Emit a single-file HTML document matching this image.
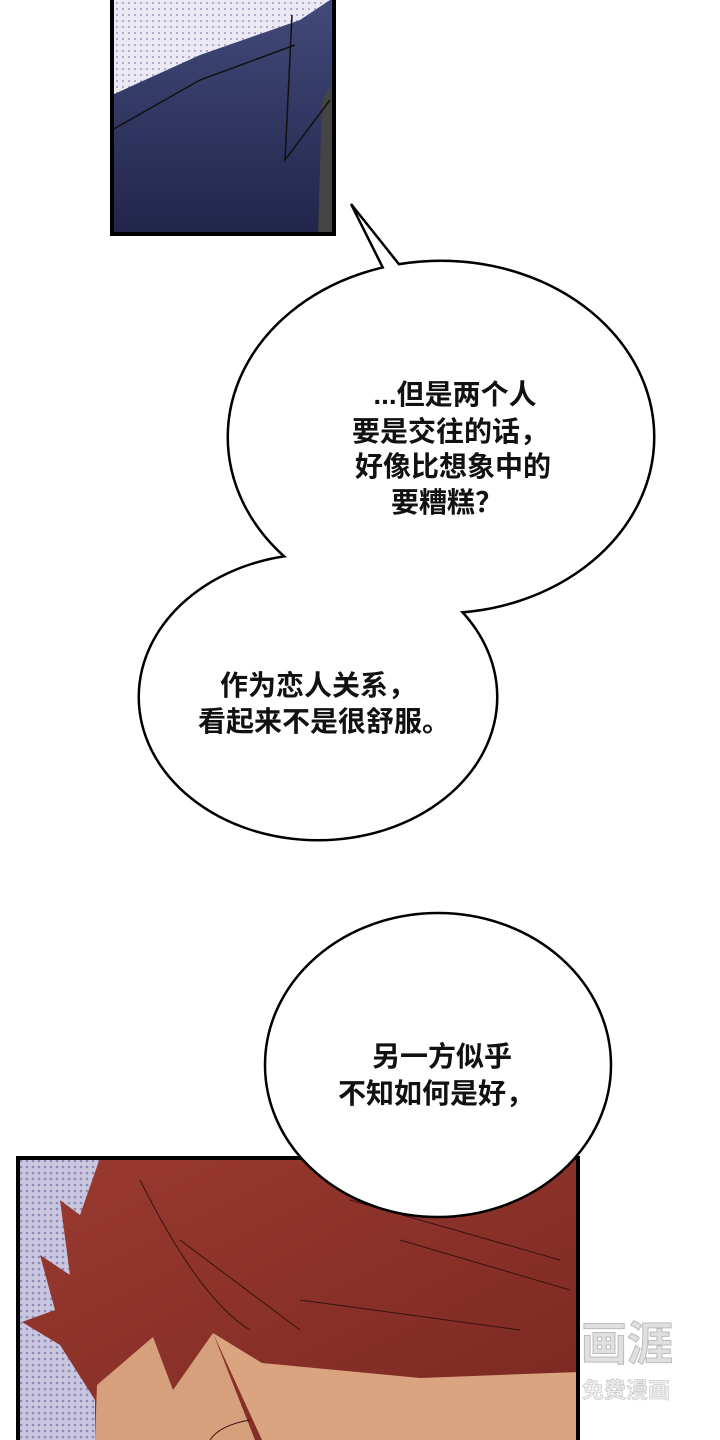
<!DOCTYPE html>
<html><head><meta charset="utf-8"><style>
html,body{margin:0;padding:0;background:#fff;}
svg{display:block}
text{font-family:"Liberation Sans","Noto Sans CJK SC",sans-serif;font-size:28px;fill:#111;text-anchor:middle;font-weight:700}
</style></head><body>
<svg width="720" height="1440" viewBox="0 0 720 1440" xmlns="http://www.w3.org/2000/svg">
<defs>
<pattern id="dots" width="6" height="6" patternUnits="userSpaceOnUse">
<rect width="6" height="6" fill="#c9c6df"/><circle cx="3" cy="3" r="1.3" fill="#8f89b5"/></pattern>
<pattern id="dots2" width="6" height="6" patternUnits="userSpaceOnUse">
<rect width="6" height="6" fill="#ebe9f3"/><circle cx="3" cy="3" r="1.1" fill="#a9a5c6"/></pattern>
<linearGradient id="navy" x1="0" y1="0" x2="0" y2="1"><stop offset="0" stop-color="#424a7a"/><stop offset="1" stop-color="#22254a"/></linearGradient>
<linearGradient id="hair" x1="0" y1="0" x2="1" y2="1"><stop offset="0" stop-color="#9a3a30"/><stop offset="1" stop-color="#7a2822"/></linearGradient>
</defs>
<rect x="112" y="-5" width="222" height="239" fill="url(#dots2)"/>
<polygon points="112,95 200,55 300,20 330,0 334,0 334,234 112,234" fill="url(#navy)"/>
<polygon points="322,100 334,80 334,234 318,234" fill="#444"/>
<path d="M112,130 L200,80 L295,45 M292,15 L285,160 L330,100" stroke="#111" stroke-width="1.5" fill="none"/>
<rect x="112" y="-5" width="222" height="239" fill="none" stroke="#000" stroke-width="4"/>
<g stroke="#000" stroke-width="5" fill="#fff">
<ellipse cx="441" cy="437" rx="212" ry="175"/>
<ellipse cx="318" cy="697" rx="178" ry="142"/>
</g>
<polygon points="351,204 385,272 402,268" fill="#fff" stroke="#000" stroke-width="2.5"/>
<g fill="#fff">
<ellipse cx="441" cy="437" rx="212" ry="175"/>
<ellipse cx="318" cy="697" rx="178" ry="142"/>
</g>
<text x="455" y="404">...但是两个人</text>
<text x="450" y="441">要是交往的话，</text>
<text x="453" y="476">好像比想象中的</text>
<text x="447" y="512">要糟糕？</text>
<text x="318" y="695">作为恋人关系，</text>
<text x="324" y="731">看起来不是很舒服。</text>
<rect x="18" y="1158" width="560" height="290" fill="url(#dots)"/>
<polygon points="100,1158 578,1158 578,1440 95,1440 95,1400 60,1345 22,1322 55,1310 40,1255 70,1275 60,1200 80,1215" fill="url(#hair)"/>
<polygon points="95,1440 97,1385 153,1337 173,1390 213,1333 255,1440" fill="#d6a07c"/>
<polygon points="213,1333 262,1363 420,1378 578,1372 578,1440 262,1440" fill="#d9a47f"/>
<path d="M140,1180 Q200,1300 250,1330 M180,1240 L300,1330 M350,1200 L560,1260 M400,1240 L570,1290 M300,1300 L520,1330 M250,1420 Q220,1425 210,1440" stroke="#3a1210" stroke-width="1" fill="none"/>
<rect x="18" y="1158" width="560" height="290" fill="none" stroke="#000" stroke-width="4"/>
<ellipse cx="438" cy="1065" rx="173" ry="152" fill="#fff" stroke="#000" stroke-width="2.5"/>
<text x="442" y="1066">另一方似乎</text>
<text x="436" y="1103">不知如何是好，</text>
<text x="627" y="1360" style="font-size:46px;fill:#e0e0e0;font-weight:700;stroke:#bbb;stroke-width:1">画涯</text>
<text x="626" y="1398" style="font-size:22px;fill:#eee;stroke:#bbb;stroke-width:0.5">免费漫画</text>
</svg>
</body></html>
